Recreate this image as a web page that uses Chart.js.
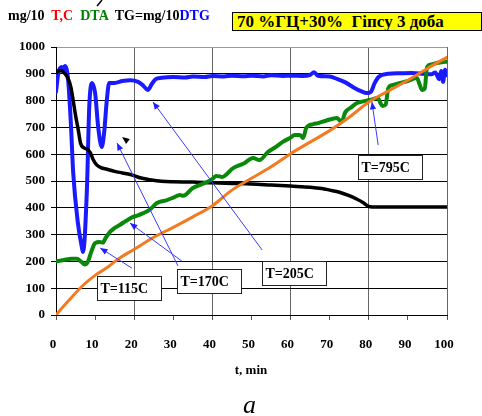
<!DOCTYPE html>
<html>
<head>
<meta charset="utf-8">
<script src="https://cdn.jsdelivr.net/npm/chart.js@4.4.1/dist/chart.umd.min.js"></script>
<style>
  body { margin: 0; background: #fff; }
  #wrap { position: relative; width: 482px; height: 416px; overflow: hidden; font-family: "Liberation Serif", "Times New Roman", serif; }
  #chart { position: absolute; left: 0; top: 0; }
  #legendText { position: absolute; left: 8px; top: 8px; font-size: 14px; font-weight: bold; white-space: pre; }
  #titleBox { position: absolute; left: 232px; top: 12px; width: 244px; height: 17px; padding-left: 4px;
              background: #ffff00; border: 1px solid #000; font-size: 17px; font-weight: bold; line-height: 18px; white-space: pre; }
  #xTitle { position: absolute; left: 0; width: 502px; top: 362px; text-align: center; font-size: 13px; font-weight: bold; }
  #caption { position: absolute; left: 243px; top: 390px; font-size: 26px; font-style: italic; }
  #stroke { position: absolute; left: 95px; top: 0; }
</style>
</head>
<body>
<div id="wrap">
  <canvas id="chart" width="482" height="416"></canvas>
  <svg id="stroke" width="10" height="8"><line x1="2" y1="6" x2="7" y2="0" stroke="#000" stroke-width="1.5"/></svg>
  <div id="legendText">mg/10  <span style="color:#ff0000">T,C</span>  <span style="color:#008000">DTA</span>  TG=mg/10<span style="color:#0000ff">DTG</span></div>
  <div id="titleBox">70 %ГЦ+30%  Гіпсу 3 доба</div>
  <div id="xTitle">t, min</div>
  <div id="caption">a</div>
</div>
<script>
// temperature, C
const tTime   = [0, 3, 7, 10, 13, 16, 20, 25, 30, 35, 40, 45, 50, 55, 60, 65, 70, 75, 80, 85, 90, 95, 100];
const tValues = [0, 50, 112, 148, 176, 210, 245, 290, 327, 366, 408, 466, 510, 553, 602, 645, 688, 738, 795, 836, 876, 920, 962];

// DTA
const dtaTime   = [0, 2, 4, 5.3, 6.5, 7.4, 8.2, 9, 10, 11.2, 12, 12.6, 13.8, 15, 16.4, 18, 19.7, 21, 22.3, 24, 25.8, 28.4, 30, 31.7, 32.5,
                   35, 38.6, 40, 41, 42.5, 45.3, 48, 50.4, 52, 54.2, 56, 58, 60, 61, 62.4, 63.2, 64, 65.8, 67, 69, 71.9, 73, 74, 75.5,
                   77, 78.5, 80.3, 82.3, 83, 83.5, 84.3, 85, 86, 88, 90, 92.3, 93, 93.6, 94.3, 94.9, 96, 97.4, 99, 100];
const dtaValues = [200, 205, 210, 210, 198, 188, 200, 235, 268, 272, 270, 285, 310, 325, 337, 352, 366, 372, 380, 393, 418, 429, 438, 448, 445,
                   474, 496, 508, 519, 515, 548, 565, 586, 578, 608, 625, 646, 662, 672, 672, 660, 698, 712, 716, 725, 735, 720, 757, 775,
                   791, 797, 802, 810, 790, 780, 785, 847, 858, 866, 873, 884, 860, 840, 845, 925, 935, 940, 944, 945];

// TG, mg/10
const tgTime   = [0, 1, 2, 3, 3.8, 4.4, 5, 5.7, 6.3, 7, 8, 8.8, 9.5, 10.4, 11.5, 13, 15, 17, 19.5, 21.5, 24, 27, 30, 35, 40, 45,
                  50, 55, 60, 65, 68, 70, 72.5, 75, 77, 78.5, 80, 82, 90, 100];
const tgValues = [905, 912, 905, 885, 850, 800, 745, 690, 640, 625, 618, 605, 580, 560, 550, 544, 536, 530, 522, 512, 505, 499, 497, 496, 493, 491,
                  489, 485, 481, 477, 472, 466, 458, 445, 432, 420, 405, 403, 403, 403];

// DTG, mg/10
const dtgTime   = [0, 0.6, 1.5, 1.8, 2.3, 3.1, 3.8, 4.4, 5.6, 6.6, 6.9, 7.9, 8.5, 9.2, 10, 10.8, 11.7, 12.3, 13, 13.6, 15, 17, 19, 21,
                   22, 23, 23.5, 24.5, 25.5, 27, 30, 33, 35, 38, 40, 43, 45, 48, 50, 53, 55, 58, 60, 63, 65, 66, 67, 70, 72, 74, 76,
                   78, 79.5, 80.5, 81.5, 82.5, 85, 88, 91, 94, 96, 97, 98, 98.5, 99, 99.5, 100];
const dtgValues = [832, 903, 925, 914, 929, 877, 716, 530, 343, 254, 235, 466, 776, 866, 828, 700, 627, 679, 802, 866, 866, 873, 876, 870,
                   860, 845, 840, 862, 880, 885, 888, 886, 890, 888, 892, 890, 893, 891, 893, 890, 895, 892, 893, 892, 896, 906, 893, 890, 880, 868, 850,
                   835, 828, 832, 865, 888, 900, 902, 903, 900, 898, 905, 880, 910, 870, 915, 895];

// callout boxes: text, left edge (min), vertical centre (value)
const calloutText  = ['T=115C', 'T=170C', 'T=205C', 'T=795C'];
const calloutLeft  = [10.5, 30.9, 52.7, 77.2];
const calloutMid   = [100, 127, 157, 552];
// arrows: tail (min, value) -> tip (min, value)
const arrowFrom = [[19.4, 175], [32.2, 201], [31.2, 183], [52.7, 243], [82.4, 634]];
const arrowTo   = [[11.3, 250], [18.9, 343], [15.6, 642], [24.8, 795], [80.8, 795]];

const zip = (xs, ys) => xs.map((x, i) => ({ x: x, y: ys[i] }));
const tickFont = { family: '"Liberation Serif", "Times New Roman", serif', size: 13, weight: 'bold' };

function arrowHead(ctx, x0, y0, x1, y1, len, color) {
  const a = Math.atan2(y1 - y0, x1 - x0);
  ctx.fillStyle = color;
  ctx.beginPath();
  ctx.moveTo(x1, y1);
  ctx.lineTo(x1 - len * Math.cos(a - 0.4), y1 - len * Math.sin(a - 0.4));
  ctx.lineTo(x1 - len * Math.cos(a + 0.4), y1 - len * Math.sin(a + 0.4));
  ctx.closePath();
  ctx.fill();
}

const callouts = {
  id: 'callouts',
  afterDatasetsDraw(chart) {
    const ctx = chart.ctx;
    const xs = chart.scales.x, ys = chart.scales.y;
    ctx.save();
    // arrows
    ctx.strokeStyle = '#3b3bff';
    ctx.lineWidth = 1;
    arrowFrom.forEach((f, i) => {
      const x0 = xs.getPixelForValue(f[0]), y0 = ys.getPixelForValue(f[1]);
      const x1 = xs.getPixelForValue(arrowTo[i][0]), y1 = ys.getPixelForValue(arrowTo[i][1]);
      ctx.beginPath();
      ctx.moveTo(x0, y0);
      ctx.lineTo(x1, y1);
      ctx.stroke();
      arrowHead(ctx, x0, y0, x1, y1, 8, '#2020ff');
    });
    // stray black arrowhead near the TG step
    const bx = xs.getPixelForValue(16.9), by = ys.getPixelForValue(664);
    arrowHead(ctx, bx + 8, by + 6, bx, by, 8, '#000');

    // label boxes
    ctx.font = 'bold 14px "Liberation Serif", "Times New Roman", serif';
    ctx.textBaseline = 'middle';
    calloutText.forEach((txt, i) => {
      const left = Math.round(xs.getPixelForValue(calloutLeft[i])) + 0.5;
      const mid = ys.getPixelForValue(calloutMid[i]);
      const w = Math.round(ctx.measureText(txt).width) + 16;
      const h = 24;
      const top = Math.round(mid - h / 2) + 0.5;
      ctx.fillStyle = '#fff';
      ctx.fillRect(left, top, w, h);
      ctx.strokeStyle = '#222';
      ctx.strokeRect(left, top, w, h);
      ctx.fillStyle = '#000';
      ctx.fillText(txt, left + 3, mid + 1);
    });
    ctx.restore();
  }
};

new Chart(document.getElementById('chart'), {
  type: 'line',
  data: {
    datasets: [
      { label: 'T,C', data: zip(tTime, tValues), borderColor: '#f47a22', borderWidth: 3 },
      { label: 'DTA', data: zip(dtaTime, dtaValues), borderColor: '#0a880a', borderWidth: 4 },
      { label: 'TG', data: zip(tgTime, tgValues), borderColor: '#000000', borderWidth: 3.5 },
      { label: 'DTG', data: zip(dtgTime, dtgValues), borderColor: '#1a1aff', borderWidth: 4 }
    ]
  },
  options: {
    responsive: false,
    animation: false,
    layout: { padding: { top: 47, right: 35, left: 0, bottom: 0 } },
    elements: {
      point: { radius: 0 },
      line: { cubicInterpolationMode: 'monotone', borderJoinStyle: 'round', borderCapStyle: 'round' }
    },
    plugins: { legend: { display: false }, tooltip: { enabled: false } },
    scales: {
      x: {
        type: 'linear', min: 0, max: 100,
        afterFit: s => { s.height = 101; },
        ticks: { stepSize: 10, autoSkip: false, maxRotation: 0, color: '#000', font: tickFont, padding: 17, labelOffset: -3,
                 callback: v => String(v) },
        grid: {
          color: c => (c.tick && c.tick.value % 20 === 0) ? '#666' : 'rgba(0,0,0,0)',
          tickColor: '#555', tickLength: 5, lineWidth: 1
        },
        border: { color: '#000', width: 1 }
      },
      y: {
        min: 0, max: 1000,
        afterFit: s => { s.width = 56; },
        ticks: { stepSize: 100, color: '#000', font: tickFont, padding: 6, callback: v => String(v) },
        grid: {
          color: c => (c.tick && c.tick.value === 1000) ? '#999' : '#000',
          tickColor: '#000', tickLength: 5, lineWidth: 1
        },
        border: { color: '#000', width: 1 }
      }
    }
  },
  plugins: [callouts]
});
</script>
</body>
</html>
